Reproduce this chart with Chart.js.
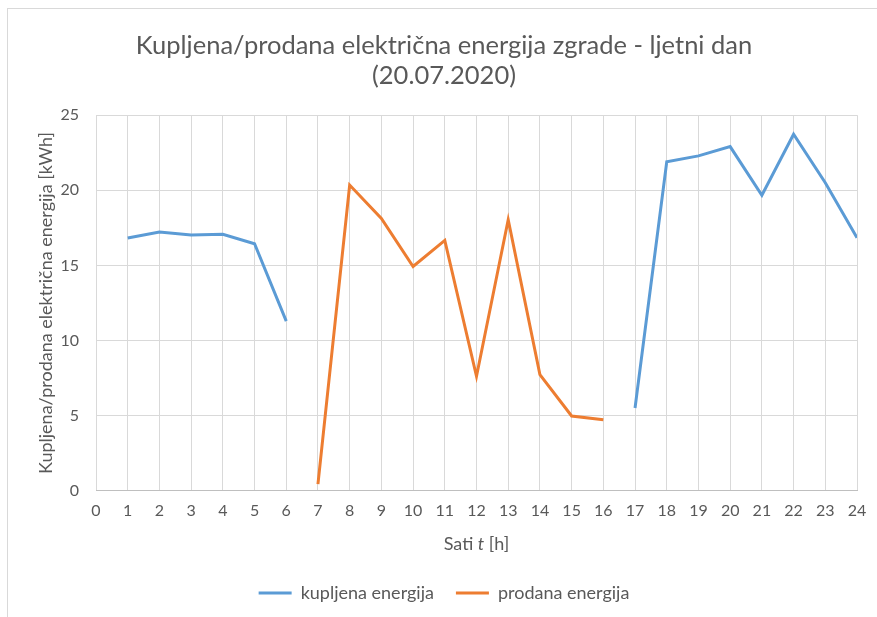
<!DOCTYPE html>
<html>
<head>
<meta charset="utf-8">
<script src="https://cdn.jsdelivr.net/npm/chart.js@4.4.1/dist/chart.umd.min.js"></script>
<style>
  html, body { margin: 0; padding: 0; background: #ffffff; }
  #wrap { position: relative; width: 877px; height: 617px; overflow: hidden; }
  #frame { position: absolute; left: 7px; top: 8px; width: 900px; height: 640px; border: 1px solid #d9d9d9; box-sizing: border-box; }
  #energyChart { position: absolute; left: 0; top: 0; }
</style>
</head>
<body>
<div id="wrap">
  <div id="frame"></div>
  <canvas id="energyChart" width="877" height="617"></canvas>
</div>
<script>
const hours = [1, 2, 3, 4, 5, 6, 7, 8, 9, 10, 11, 12, 13, 14, 15, 16, 17, 18, 19, 20, 21, 22, 23, 24];
const kupljena = [16.82, 17.22, 17.02, 17.07, 16.44, 11.29, null, null, null, null, null, null, null, null, null, null, 5.51, 21.9, 22.29, 22.91, 19.67, 23.73, 20.5, 16.84];
const prodana = [null, null, null, null, null, null, 0.44, 20.35, 18.13, 14.93, 16.67, 7.62, 18.04, 7.73, 4.98, 4.73, null, null, null, null, null, null, null, null];
const yTicks = [0, 5, 10, 15, 20, 25];

const textColor = "#595959";
const fontFamily = "Lato, 'Liberation Sans', sans-serif";

function toPoints(values) {
  return hours.map((h, i) => ({ x: h, y: values[i] }));
}

// x axis title with italic "t", drawn by hand
const xTitlePlugin = {
  id: "xTitle",
  afterDraw(chart) {
    const ctx = chart.ctx;
    const area = chart.chartArea;
    const y = area.bottom + 53;
    const parts = [
      { text: "Sati ", font: "18px " + fontFamily },
      { text: "t", font: "italic 18px " + fontFamily },
      { text: " [h]", font: "18px " + fontFamily }
    ];
    ctx.save();
    let total = 0;
    parts.forEach((p) => {
      ctx.font = p.font;
      p.w = ctx.measureText(p.text).width;
      total += p.w;
    });
    let x = (area.left + area.right) / 2 - total / 2;
    ctx.fillStyle = textColor;
    ctx.textBaseline = "middle";
    ctx.textAlign = "left";
    parts.forEach((p) => {
      ctx.font = p.font;
      ctx.fillText(p.text, x, y);
      x += p.w;
    });
    ctx.restore();
  }
};

new Chart(document.getElementById("energyChart"), {
  type: "line",
  data: {
    datasets: [
      {
        label: "kupljena energija",
        data: toPoints(kupljena),
        borderColor: "#5b9bd5",
        backgroundColor: "#5b9bd5",
        borderWidth: 3,
        pointRadius: 0,
        tension: 0,
        spanGaps: false
      },
      {
        label: "prodana energija",
        data: toPoints(prodana),
        borderColor: "#ed7d31",
        backgroundColor: "#ed7d31",
        borderWidth: 3,
        pointRadius: 0,
        tension: 0,
        spanGaps: false
      }
    ]
  },
  options: {
    responsive: false,
    animation: false,
    layout: {
      padding: { left: 31, right: 20, top: 0, bottom: 5 }
    },
    plugins: {
      title: {
        display: true,
        text: ["Kupljena/prodana električna energija zgrade - ljetni dan", "(20.07.2020)"],
        color: textColor,
        font: { family: fontFamily, size: 25.5, weight: "normal", lineHeight: 1.18 },
        padding: { top: 31, bottom: 24 }
      },
      legend: {
        position: "bottom",
        labels: {
          usePointStyle: true,
          pointStyle: "line",
          pointStyleWidth: 33,
          color: textColor,
          font: { family: fontFamily, size: 18 },
          padding: 22
        }
      },
      tooltip: { enabled: false }
    },
    scales: {
      x: {
        type: "linear",
        min: 0,
        max: 24,
        ticks: {
          stepSize: 1,
          color: textColor,
          font: { family: fontFamily, size: 16 },
          padding: 10,
          maxRotation: 0
        },
        grid: {
          color: "#d9d9d9",
          drawTicks: false
        },
        border: { color: "#bfbfbf" },
        afterFit(scale) {
          scale.height += 32;
        }
      },
      y: {
        min: 0,
        max: 25,
        afterBuildTicks(scale) {
          scale.ticks = yTicks.map((v) => ({ value: v }));
        },
        afterFit(scale) {
          scale.width = 65;
        },
        ticks: {
          color: textColor,
          font: { family: fontFamily, size: 16 },
          padding: 17
        },
        grid: {
          color: "#d9d9d9",
          drawTicks: false
        },
        border: { display: false },
        title: {
          display: true,
          text: "Kupljena/prodana električna energija [kWh]",
          color: textColor,
          font: { family: fontFamily, size: 18 },
          padding: 4
        }
      }
    }
  },
  plugins: [xTitlePlugin]
});
</script>
</body>
</html>
